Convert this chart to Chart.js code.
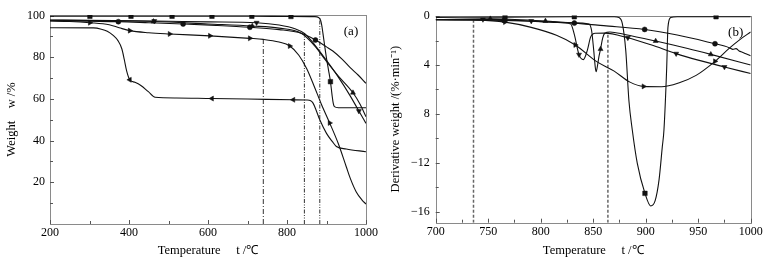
<!DOCTYPE html>
<html>
<head>
<meta charset="utf-8">
<script src="https://cdn.jsdelivr.net/npm/chart.js@4.4.0/dist/chart.umd.min.js"></script>
<style>
    html, body { margin: 0; padding: 0; background: #fff; }
    .panel { position: absolute; top: 0; width: 384px; height: 261px; }
    #left { left: 0; }
    #right { left: 384px; }
</style>
</head>
<body>
<div class="panel" id="left"><canvas id="tga" width="384" height="261"></canvas></div>
<div class="panel" id="right"><canvas id="dtg" width="384" height="261"></canvas></div>
<script>
// ---- panel (a): weight w /% against temperature ----
const tempTicksA = [200, 300, 400, 500, 600, 700, 800, 900, 1000];
const weightTicksA = [10, 20, 30, 40, 50, 60, 70, 80, 90, 100];

const sqT = [200, 301, 405, 509, 610, 711, 810, 870, 880, 885, 888, 891, 895, 900, 905, 910, 914, 917, 920, 930, 1000];
const sqW = [99.7, 99.7, 99.7, 99.7, 99.7, 99.7, 99.6, 99.5, 99.1, 97.8, 95.3, 91.5, 86, 79.5, 74, 68.3, 62, 58, 56.3, 55.8, 55.8];
const sqMarks = [301, 405, 509, 610, 711, 810, 910];

const circT = [200, 300, 373, 450, 537, 620, 706, 780, 836, 872, 900, 916, 940, 960, 980, 1000];
const circW = [97.6, 97.3, 97.1, 96.6, 96, 95.3, 94.4, 93.3, 91.5, 88.3, 85, 83, 79, 75, 71.5, 67.5];
const circMarks = [373, 537, 706, 872];

const upT = [200, 300, 462, 600, 712, 780, 836, 870, 900, 930, 967, 985, 1000];
const upW = [97.8, 97.6, 97.2, 96, 95, 94, 91.5, 85.5, 78, 71, 63, 57.5, 51.5];
const upMarks = [462, 712, 967];

const downT = [200, 300, 464, 600, 723, 780, 820, 845, 870, 900, 930, 960, 982, 1000];
const downW = [97.9, 97.7, 97.4, 97, 96.6, 95.5, 93.7, 91.3, 86, 78.5, 70.5, 61.5, 54.2, 48.3];
const downMarks = [464, 723, 982];

const rightT = [200, 250, 301, 350, 375, 402, 450, 503, 605, 706, 740, 780, 807, 830, 850, 868, 887, 908, 930, 950, 960, 975, 990, 1000];
const rightW = [97.4, 97.2, 96.6, 95.6, 94.2, 92.8, 91.8, 91.2, 90.3, 89.1, 88.6, 87.3, 85.4, 81, 74.5, 66.5, 57.5, 48.5, 38.5, 27.5, 22, 15.5, 11.5, 9.6];
const rightMarks = [301, 402, 503, 605, 706, 807, 908];

const leftT = [200, 310, 330, 345, 360, 372, 382, 388, 394, 402, 415, 430, 449, 466, 520, 610, 700, 816, 850, 860, 866, 874, 883, 900, 915, 925, 950, 1000];
const leftW = [94.2, 94.1, 93.5, 92.5, 90.5, 88, 84, 79, 73.5, 69.2, 68, 66.5, 63.5, 60.8, 60.5, 60.2, 60, 59.6, 59.5, 59.2, 58, 54.5, 50, 43.5, 39.5, 37.2, 36, 34.7];
const leftMarks = [402, 610, 816];

const onsetT = [740, 844, 883];
const onsetW = [88.6, 91.5, 99.5];

// ---- panel (b): derivative weight against temperature ----
const tempTicksB = [700, 725, 750, 775, 800, 825, 850, 875, 900, 925, 950, 975, 1000];
const dtgTicksB = [0, -2, -4, -6, -8, -10, -12, -14, -16];
const dtgLabelsB = {'0': '0', '-4': '4', '-8': '8', '-12': '\u221212', '-16': '\u221216'};

const sqTb = [700, 766, 832, 866, 870, 874.6, 877.7, 881, 884, 887.2, 892, 899.3, 904.8, 909, 912.7, 915.8, 917.4, 920, 921.2, 923.8, 930, 967, 1000];
const sqD = [-0.1, -0.08, -0.05, -0.05, -0.05, -0.12, -0.6, -2.8, -6.9, -9.3, -12.05, -14.5, -15.53, -15.1, -13.4, -10.7, -9.3, -4.2, -0.9, -0.12, -0.05, -0.05, -0.05];
const sqMarksB = [766, 832, 899.3, 967];

const circTb = [700, 750, 765, 790, 832, 860, 899, 930, 966, 975, 980, 983, 986, 989, 992, 996, 1000];
const circD = [-0.3, -0.33, -0.35, -0.42, -0.57, -0.78, -1.09, -1.55, -2.26, -2.45, -2.6, -2.72, -2.66, -2.85, -2.95, -3.1, -3.25];
const circMarksB = [765, 832, 899, 966];

const upTb = [700, 752, 804.5, 830, 846, 848.5, 850.5, 852, 852.8, 854, 855.5, 857, 859, 861, 866, 880, 909.5, 940, 962, 1000];
const upD = [-0.28, -0.21, -0.4, -0.55, -0.64, -1.2, -2.8, -4.2, -4.55, -4.1, -3.3, -2.7, -1.8, -1.4, -1.3, -1.5, -2.04, -2.65, -3.13, -4.0];
const upMarksB = [752, 804.5, 857, 909.5, 962];

const downTb = [700, 745, 791, 815, 828.6, 832, 836.5, 840.6, 844.4, 847.6, 852, 861, 883, 905, 929, 950, 975, 1000];
const downD = [-0.3, -0.27, -0.4, -0.52, -0.64, -1.5, -3.15, -3.56, -2.8, -1.7, -1.4, -1.39, -1.77, -2.35, -3.07, -3.6, -4.16, -4.7];
const downMarksB = [745, 791, 836.5, 883, 929, 975];

const rightTb = [700, 740, 766, 790, 815, 833, 853, 870, 885, 898, 915, 932, 948, 966, 980, 990, 1000];
const rightD = [-0.3, -0.33, -0.49, -0.9, -1.57, -2.36, -3.7, -4.5, -5.4, -5.75, -5.78, -5.45, -4.85, -3.7, -2.6, -1.9, -1.3];
const rightMarksB = [766, 833, 898, 966];

const dashT = [736, 864];
const dashD = [-0.35, -1.3];

const serif = '"Liberation Serif", "Times New Roman", serif';

function curve(xs, ys, marks, style, rotation) {
    return {
        data: xs.map((x, i) => ({x: x, y: ys[i]})),
        borderColor: '#111',
        backgroundColor: '#111',
        borderWidth: 1.1,
        pointStyle: style,
        rotation: rotation || 0,
        pointRadius: ctx => {
            if (!ctx.raw || !marks.includes(ctx.raw.x)) return 0;
            return style === 'rect' ? 3.2 : (style === 'circle' ? 2.5 : 2.9);
        },
        pointBorderWidth: 0.5,
        cubicInterpolationMode: 'monotone'
    };
}

function drop(x, top, bottom, dash, color, width) {
    return {
        data: [{x: x, y: bottom}, {x: x, y: top}],
        borderColor: color,
        borderWidth: width,
        borderDash: dash,
        pointRadius: 0,
        tension: 0
    };
}

// frame, inward tick marks and the panel letter
function framePlugin(letter) {
    return {
        id: 'frame' + letter,
        beforeDatasetsDraw(chart) {
            const ctx = chart.ctx, a = chart.chartArea;
            const sx = chart.scales.x, sy = chart.scales.y;
            ctx.save();
            ctx.strokeStyle = '#8a8a8a';
            ctx.lineWidth = 1;
            ctx.strokeRect(Math.round(a.left) + 0.5, Math.round(a.top) + 0.5,
                Math.round(a.right - a.left), Math.round(a.bottom - a.top));
            ctx.strokeStyle = '#555';
            ctx.beginPath();
            sx.ticks.forEach(t => {
                let px = Math.round(sx.getPixelForValue(t.value)) + 0.5;
                let len = t.label ? 4 : 3;
                ctx.moveTo(px, a.bottom);
                ctx.lineTo(px, a.bottom - len);
            });
            sy.ticks.forEach(t => {
                let py = Math.round(sy.getPixelForValue(t.value)) + 0.5;
                let len = t.label ? 4 : 3;
                ctx.moveTo(a.left, py);
                ctx.lineTo(a.left + len, py);
            });
            ctx.stroke();
            ctx.fillStyle = '#000';
            ctx.font = '13px ' + serif;
            ctx.textAlign = 'center';
            ctx.textBaseline = 'middle';
            ctx.fillText(letter, a.right - 15, a.top + 17);
            ctx.restore();
        }
    };
}

function makeOptions(xr, yr, xTicks, yTicks, xLabel, yLabel, yTitle, sizes) {
    const tickFont = {family: serif, size: 12};
    const titleFont = {family: serif, size: 12.5};
    return {
        responsive: false,
        animation: false,
        events: [],
        layout: {padding: {left: 0, right: sizes.right, top: sizes.top, bottom: 0}},
        plugins: {legend: {display: false}, tooltip: {enabled: false}},
        scales: {
            x: {
                type: 'linear', min: xr[0], max: xr[1],
                afterBuildTicks: axis => { axis.ticks = xTicks.map(v => ({value: v})); },
                afterFit: axis => { axis.height = sizes.xh; },
                grid: {display: false, drawTicks: false},
                border: {display: false},
                ticks: {font: tickFont, color: '#000', padding: 2, autoSkip: false, maxRotation: 0, callback: xLabel},
                title: {display: true, text: 'Temperature     t /\u2103', font: titleFont, color: '#000', padding: {top: 2, bottom: 3}}
            },
            y: {
                type: 'linear', min: yr[0], max: yr[1],
                afterBuildTicks: axis => { axis.ticks = yTicks.map(v => ({value: v})); },
                afterFit: axis => { axis.width = sizes.yw; },
                grid: {display: false, drawTicks: false},
                border: {display: false},
                ticks: {font: tickFont, color: '#000', padding: sizes.ypad, autoSkip: false, callback: yLabel},
                title: {display: true, text: yTitle, font: titleFont, color: '#000', padding: {top: 4, bottom: 2}}
            }
        }
    };
}

new Chart(document.getElementById('tga').getContext('2d'), {
    type: 'line',
    data: {
        datasets: [
            curve(sqT, sqW, sqMarks, 'rect'),
            curve(circT, circW, circMarks, 'circle'),
            curve(upT, upW, upMarks, 'triangle', 0),
            curve(downT, downW, downMarks, 'triangle', 180),
            curve(rightT, rightW, rightMarks, 'triangle', 90),
            curve(leftT, leftW, leftMarks, 'triangle', 270),
            drop(onsetT[0], onsetW[0], 0, [5, 2, 1, 2], '#333', 1),
            drop(onsetT[1], onsetW[1], 0, [4, 1.5, 1, 1.5, 1, 1.5], '#333', 1),
            drop(onsetT[2], onsetW[2], 0, [4, 1.5, 1, 1.5, 1, 1.5], '#333', 1)
        ]
    },
    options: makeOptions([200, 1000], [0, 100.3], tempTicksA, weightTicksA,
        v => (v % 200 === 0 ? String(v) : ''),
        v => (v % 20 === 0 ? String(v) : ''),
        'Weight    w /%',
        {right: 18, top: 15, xh: 37, yw: 50, ypad: 5}),
    plugins: [framePlugin('(a)')]
});

new Chart(document.getElementById('dtg').getContext('2d'), {
    type: 'line',
    data: {
        datasets: [
            curve(sqTb, sqD, sqMarksB, 'rect'),
            curve(circTb, circD, circMarksB, 'circle'),
            curve(upTb, upD, upMarksB, 'triangle', 0),
            curve(downTb, downD, downMarksB, 'triangle', 180),
            curve(rightTb, rightD, rightMarksB, 'triangle', 90),
            drop(dashT[0], dashD[0], -16.9, [3, 2], '#666', 1.5),
            drop(dashT[1], dashD[1], -16.9, [3, 2], '#666', 1.5)
        ]
    },
    options: makeOptions([700, 1000], [-16.9, 0.05], tempTicksB, dtgTicksB,
        v => (v % 50 === 0 ? String(v) : ''),
        v => (dtgLabelsB[String(v)] || ''),
        'Derivative weight /(%\u00b7min\u207b\u00b9)',
        {right: 17.3, top: 15.5, xh: 38.3, yw: 51.7, ypad: 6}),
    plugins: [framePlugin('(b)')]
});
</script>
</body>
</html>
